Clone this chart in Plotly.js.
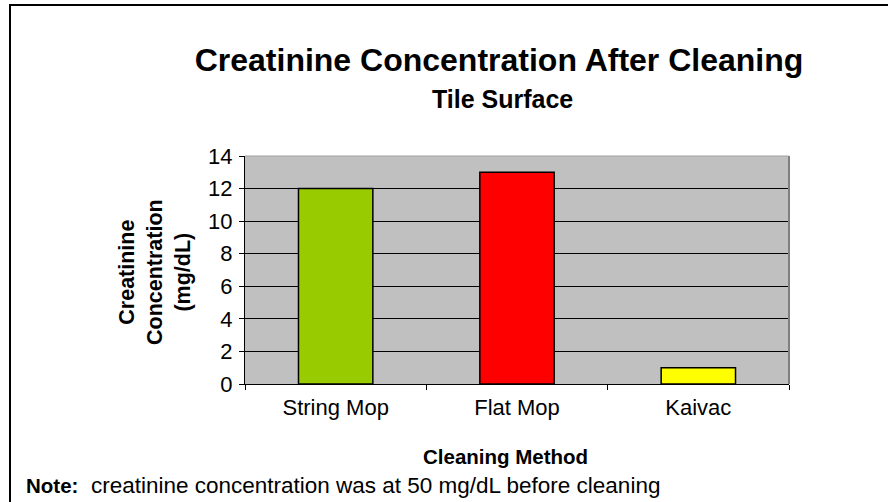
<!DOCTYPE html>
<html>
<head>
<meta charset="utf-8">
<script src="https://cdn.plot.ly/plotly-3.0.1.min.js"></script>
<style>
html,body{margin:0;padding:0;background:#fff;overflow:hidden;}
#frame{position:absolute;left:9px;top:4px;width:900px;height:520px;border:2px solid #000;box-sizing:border-box;pointer-events:none;z-index:5;}
#chart{position:absolute;left:0;top:0;width:888px;height:502px;}
</style>
</head>
<body>
<div id="chart"></div>
<div id="frame"></div>
<script>
const categories = ["String Mop", "Flat Mop", "Kaivac"];
const values = [12, 13, 1];
const barColors = ["#99CC00", "#FF0000", "#FFFF00"];
const yTicks = [0, 2, 4, 6, 8, 10, 12, 14];

const W = 888, H = 502;
const L = 245, R = 789, T = 156, B = 384;
const font = "Arial, 'Liberation Sans', Helvetica, sans-serif";
const px = x => (x - L) / (R - L);
const py = y => (B - y) / (B - T);

const trace = {
  type: "bar",
  x: categories,
  y: values,
  width: 0.41,
  marker: {color: barColors, line: {color: "#000", width: 1.5}},
  hoverinfo: "x+y"
};

const layout = {
  width: W, height: H,
  margin: {l: L, r: W - R, t: T, b: H - B, pad: 0},
  paper_bgcolor: "#fff",
  plot_bgcolor: "#C0C0C0",
  showlegend: false,
  font: {family: font, color: "#000", size: 21},
  title: {
    text: "<b>Creatinine Concentration After Cleaning</b>",
    font: {family: font, size: 32, color: "#000"},
    xref: "container", yref: "container",
    x: 499 / W, xanchor: "center",
    y: 1 - 60 / H, yanchor: "middle"
  },
  xaxis: {
    type: "category",
    range: [-0.5, 2.5],
    showgrid: false,
    showline: true, linecolor: "#000", linewidth: 1,
    ticks: "outside", tickson: "boundaries", ticklen: 5, tickcolor: "#000",
    tickfont: {family: font, size: 22, color: "#000"},
    ticklabelstandoff: 4,
    zeroline: false,
    fixedrange: true
  },
  yaxis: {
    range: [0, 14],
    tickvals: yTicks,
    ticktext: yTicks.map(String),
    showgrid: true, gridcolor: "#000", gridwidth: 1,
    showline: true, linecolor: "#000", linewidth: 1,
    ticks: "outside", ticklen: 5, tickcolor: "#000",
    tickfont: {family: font, size: 22, color: "#000"},
    ticklabelstandoff: 2,
    zeroline: false,
    fixedrange: true
  },
  shapes: [
    {type: "line", xref: "paper", yref: "paper", x0: 1, x1: 1, y0: 0, y1: 1,
     line: {color: "#808080", width: 2}},
    {type: "line", xref: "paper", yref: "paper", x0: 0, x1: 1, y0: 1, y1: 1,
     line: {color: "#A0A0A0", width: 1}}
  ],
  annotations: [
    {text: "<b>Tile Surface</b>", xref: "paper", yref: "paper",
     x: px(502), y: py(99), xanchor: "center", yanchor: "middle",
     showarrow: false, font: {family: font, size: 25, color: "#000"}},
    {text: "<b>Creatinine<br>Concentration<br>(mg/dL)</b>", xref: "paper", yref: "paper",
     x: px(155), y: py(272), xanchor: "center", yanchor: "middle", textangle: -90,
     showarrow: false, font: {family: font, size: 21.5, color: "#000"}},
    {text: "<b>Cleaning Method</b>", xref: "paper", yref: "paper",
     x: px(505), y: py(456), xanchor: "center", yanchor: "middle",
     showarrow: false, font: {family: font, size: 20.5, color: "#000"}},
    {text: "<b style='font-size:20.5px'>Note:</b>  creatinine concentration was at 50 mg/dL before cleaning", xref: "paper", yref: "paper",
     x: px(24), y: py(485), xanchor: "left", yanchor: "middle",
     showarrow: false, font: {family: font, size: 22.5, color: "#000"}}
  ]
};

Plotly.newPlot("chart", [trace], layout, {displayModeBar: false, staticPlot: true});
</script>
</body>
</html>
